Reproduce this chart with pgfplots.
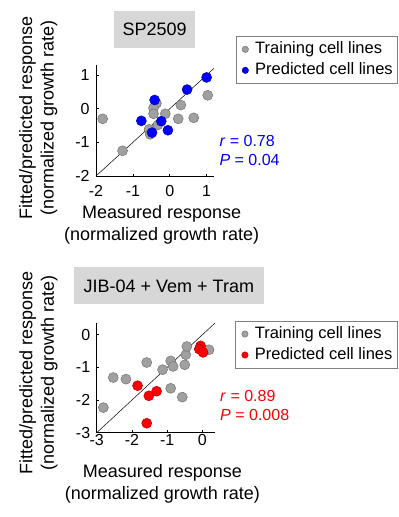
\documentclass[border=0pt]{standalone}
\usepackage{fontspec}
\setmainfont{Liberation Sans}
\usepackage{pgfplots}
\pgfplotsset{compat=1.18}
\definecolor{trgray}{RGB}{160,160,160}
\definecolor{tredge}{RGB}{115,115,115}
\definecolor{titlegray}{RGB}{215,215,215}
\definecolor{pblue}{RGB}{0,0,255}
\definecolor{pblueedge}{RGB}{0,0,170}
\definecolor{pred}{RGB}{255,0,0}
\definecolor{prededge}{RGB}{180,0,0}
\pgfplotsset{
  panel/.style={
    scale only axis, width=118bp,
    axis x line*=bottom, axis y line*=left,
    axis line style={-, line width=0.7bp, black},
    tick align=inside, major tick length=2.5bp,
    tick style={black, line width=0.6bp},
    tick label style={font=\fontsize{16bp}{16bp}\selectfont},
    yticklabel style={xshift=-3bp},
    clip=false,
    legend cell align=left,
    legend style={draw=gray, line width=0.6bp, anchor=north west,
      font=\fontsize{16.5bp}{16.5bp}\selectfont,
      inner xsep=3bp, inner ysep=5bp, row sep=5bp,
      nodes={inner xsep=2bp, inner ysep=0bp, text height=12bp, text depth=4bp}},
    title style={anchor=center, fill=titlegray, minimum height=37bp, inner sep=0pt,
      font=\fontsize{18bp}{18bp}\selectfont},
    xlabel style={anchor=center, align=center, font=\fontsize{18bp}{22bp}\selectfont},
    ylabel style={anchor=center, align=center, font=\fontsize{18bp}{21.5bp}\selectfont},
  },
  limg/.style={legend image code/.code={\draw[##1, mark size=3.2bp] plot coordinates {(0bp,0bp)};
      \path (-6bp,0bp) (7.6bp,0bp);}},
  train/.style={only marks, mark=*, mark size=5bp,
    mark options={draw=tredge, fill=trgray, line width=0.5bp}, limg},
  predb/.style={only marks, mark=*, mark size=5bp,
    mark options={draw=pblueedge, fill=pblue, line width=0.5bp}, limg},
  predr/.style={only marks, mark=*, mark size=5bp,
    mark options={draw=prededge, fill=pred, line width=0.5bp}, limg},
}
\begin{document}
\begin{tikzpicture}
\useasboundingbox (0,0) rectangle (399bp,-517bp);
% ---------------- top panel ----------------
\begin{axis}[panel, height=111bp,
  at={(96bp,-176bp)}, anchor=south west,
  xmin=-2, xmax=1.2, ymin=-2, ymax=1.3,
  xtick={-2,-1,0,1}, xticklabels={-2,-1,0,1},
  ytick={-2,-1,0,1}, yticklabels={-2,-1,0,1},
  xticklabel style={yshift=-6bp},
  title={SP2509}, title style={at={(axis description cs:0.496,1.266)}, minimum width=81bp},
  xlabel={Measured response\\(normalized growth rate)},
  xlabel style={at={(axis description cs:0.557,-0.44)}},
  ylabel={Fitted/predicted response\\(normalized growth rate)},
  ylabel style={at={(axis description cs:-0.489,0.523)}},
  legend style={at={(axis description cs:1.184,1.261)}},
]
\addplot[train] coordinates {
 (-1.82,-0.30) (-1.28,-1.25) (1.03,0.40) (0.65,-0.27) (0.23,-0.30)
 (0.30,0.11) (-0.12,-0.15) (-0.36,0.16) (-0.44,0.02) (-0.44,-0.15)
 (-0.32,-0.48) (-0.56,-0.61) (-0.53,-0.76)
};
\addlegendentry{Training cell lines}
\addplot[predb] coordinates {
 (1.00,0.93) (0.47,0.57) (-0.41,0.26) (-0.77,-0.36) (-0.23,-0.37)
 (-0.05,-0.64) (-0.48,-0.71)
};
\addlegendentry{Predicted cell lines}
\addplot[black, line width=0.5bp, forget plot] coordinates {(-2,-2) (1.2,1.2)};
\node[anchor=west, align=left, text=pblue, font=\fontsize{16bp}{19bp}\selectfont]
  at (axis description cs:1.017,0.23) {\textit{r} = 0.78\\\textit{P} = 0.04};
\end{axis}
% ---------------- bottom panel ----------------
\begin{axis}[panel, height=109.7bp,
  at={(96.7bp,-432.7bp)}, anchor=south west,
  xmin=-3, xmax=0.35, ymin=-3, ymax=0.36,
  xtick={-3,-2,-1,0}, xticklabels={-3,-2,-1,0},
  ytick={-3,-2,-1,0}, yticklabels={-3,-2,-1,0},
  xticklabel style={yshift=2bp},
  title={JIB-04 + Vem + Tram}, title style={at={(axis description cs:0.611,1.283)}, minimum width=190bp},
  xlabel={Measured response\\(normalized growth rate)},
  xlabel style={at={(axis description cs:0.556,-0.468)}},
  ylabel={Fitted/predicted response\\(normalized growth rate)},
  ylabel style={at={(axis description cs:-0.494,0.544)}},
  legend style={at={(axis description cs:1.175,1.021)}},
]
\addplot[train] coordinates {
 (-2.81,-2.23) (-2.53,-1.31) (-2.17,-1.36) (-1.58,-0.85) (-1.13,-1.07)
 (-0.90,-0.80) (-0.83,-0.97) (-0.90,-1.64) (-0.57,-1.91) (-0.50,-0.92)
 (-0.47,-0.61) (-0.44,-0.36) (0.19,-0.46)
};
\addlegendentry{Training cell lines}
\addplot[predr] coordinates {
 (-1.84,-1.56) (-1.52,-1.87) (-1.30,-1.73) (-1.58,-2.71) (-0.05,-0.34)
 (-0.09,-0.44) (0.02,-0.54)
};
\addlegendentry{Predicted cell lines}
\addplot[black, line width=0.5bp, forget plot] coordinates {(-3,-3) (0.36,0.36)};
\node[anchor=west, align=left, text=pred, font=\fontsize{16bp}{19bp}\selectfont]
  at (axis description cs:1.017,0.244) {\textit{r} = 0.89\\\textit{P} = 0.008};
\end{axis}
\end{tikzpicture}
\end{document}
